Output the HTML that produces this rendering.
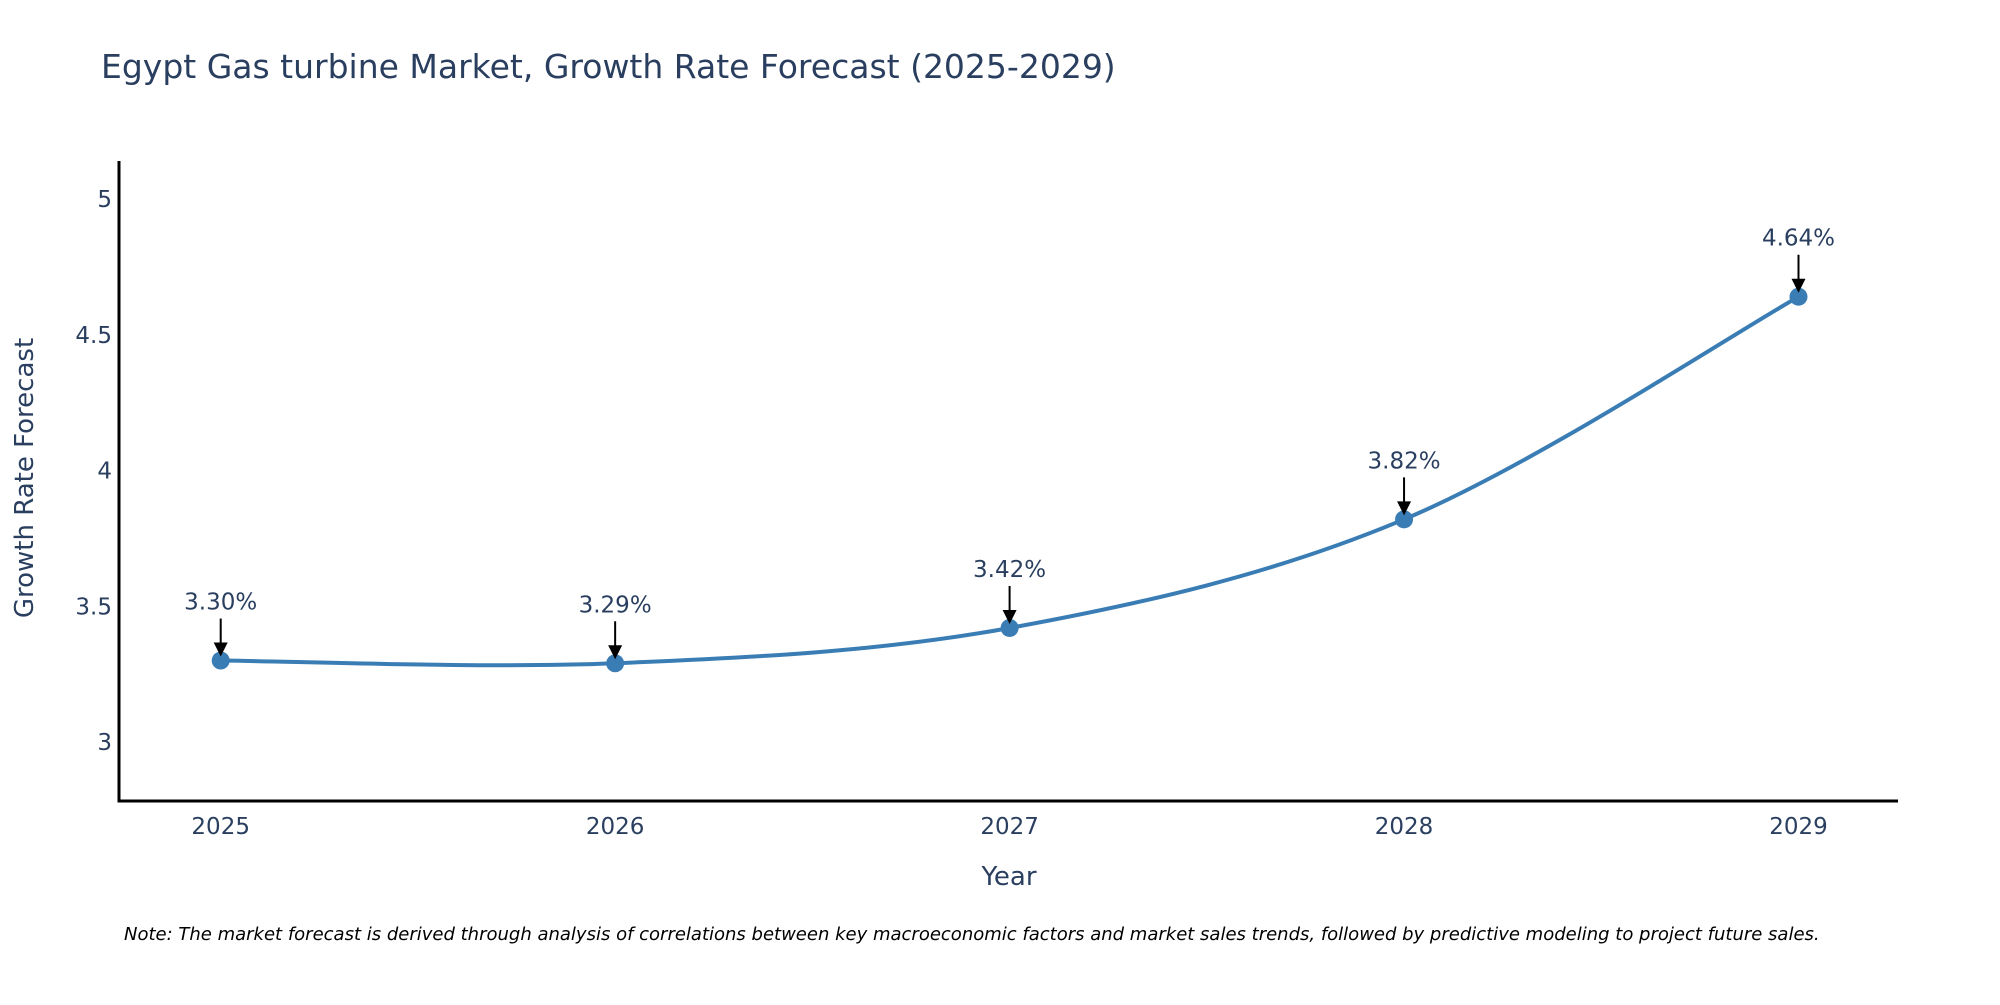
<!DOCTYPE html>
<html><head><meta charset="utf-8"><style>
body{margin:0;background:#fff;}
svg text{font-family:"DejaVu Sans",sans-serif;fill:#2a3f5f;}
</style></head><body>
<svg width="2000" height="1000" viewBox="0 0 2000 1000" xmlns="http://www.w3.org/2000/svg">
<text x="101" y="78" font-size="33">Egypt Gas turbine Market, Growth Rate Forecast (2025-2029)</text>
<g id="yticks"></g><g id="xticks"></g>
<line x1="119" y1="161" x2="119" y2="802" stroke="#000" stroke-width="3"/>
<line x1="117.5" y1="801" x2="1898" y2="801" stroke="#000" stroke-width="3"/>
<path id="line" fill="none" stroke="#3a7db5" stroke-width="4"/>
<g id="marks"></g>
<text x="1009" y="885" font-size="26" text-anchor="middle">Year</text>
<text transform="translate(33,478) rotate(-90)" font-size="26" text-anchor="middle">Growth Rate Forecast</text>
<text x="124" y="940" font-size="18" font-style="italic" style="fill:#000">Note: The market forecast is derived through analysis of correlations between key macroeconomic factors and market sales trends, followed by predictive modeling to project future sales.</text>
</svg>
<script>
const years=[2025,2026,2027,2028,2029];
const values=[3.30,3.29,3.42,3.82,4.64];
const labels=["3.30%","3.29%","3.42%","3.82%","4.64%"];
const yTicks=[3,3.5,4,4.5,5];
const yTickLabels=["3","3.5","4","4.5","5"];
const NS="http://www.w3.org/2000/svg";
function X(v){return 220.7+(v-2025)*394.45;}
function Y(v){return 742-(v-3)*271.5;}
function mk(t,a,p){const e=document.createElementNS(NS,t);for(const k in a)e.setAttribute(k,a[k]);if(p)p.appendChild(e);return e;}
const yt=document.getElementById('yticks');
yTicks.forEach((v,i)=>{const t=mk('text',{x:112,y:Y(v)+8,'font-size':23,'text-anchor':'end'},yt);


t.textContent=yTickLabels[i];});
const xt=document.getElementById('xticks');
years.forEach(v=>{const t=mk('text',{x:X(v),y:834,'font-size':23,'text-anchor':'middle'},xt);


t.textContent=v;});
const P=years.map((y,i)=>[X(y),Y(values[i])]);
let d='M'+P[0][0]+','+P[0][1];
for(let i=0;i<P.length-1;i++){const p0=P[Math.max(i-1,0)],p1=P[i],p2=P[i+1],p3=P[Math.min(i+2,P.length-1)];
const c1=[p1[0]+(p2[0]-p0[0])/6,p1[1]+(p2[1]-p0[1])/6],c2=[p2[0]-(p3[0]-p1[0])/6,p2[1]-(p3[1]-p1[1])/6];
d+=' C'+c1+' '+c2+' '+p2;}
document.getElementById('line').setAttribute('d',d);
const g=document.getElementById('marks');
P.forEach((p,i)=>{
const c=mk('circle',{cx:p[0],cy:p[1],r:9,fill:'#3a7db5'},g);


const l=mk('line',{x1:p[0],y1:p[1]-42,x2:p[0],y2:p[1]-14,stroke:'#000','stroke-width':2},g);


const h=mk('path',{d:`M${p[0]-7},${p[1]-18} L${p[0]+7},${p[1]-18} L${p[0]},${p[1]-4} Z`,fill:'#000'},g);


const t=mk('text',{x:p[0],y:p[1]-51,'font-size':23,'text-anchor':'middle'},g);


t.textContent=labels[i];});
</script>
</body></html>
